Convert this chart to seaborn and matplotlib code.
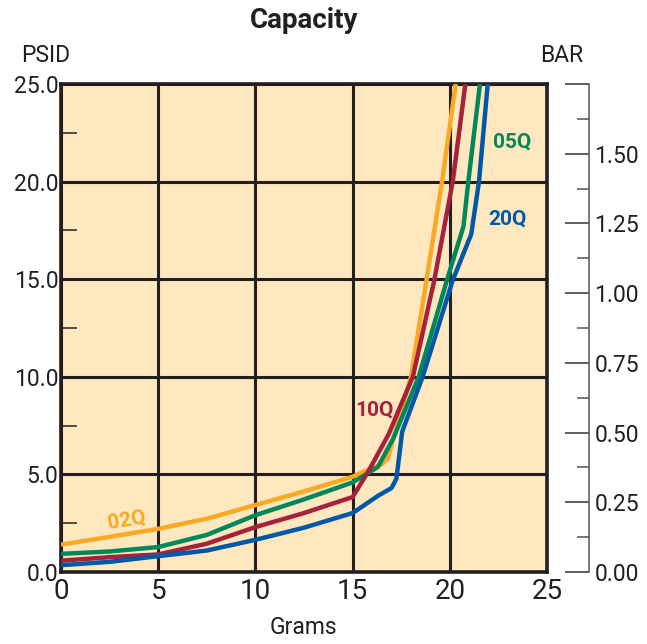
import pandas as pd
import numpy as np
import matplotlib
matplotlib.use("Agg")
import matplotlib.pyplot as plt
import seaborn as sns
from matplotlib.ticker import MultipleLocator, FixedLocator

# curve values (grams vs PSID)
grams_02q = [0, 2.5, 5, 7.5, 10, 12.5, 15, 15.7, 16.5, 16.8, 17.1, 18.0, 18.8, 19.6, 20.3]
psid_02q = [1.40, 1.80, 2.21, 2.73, 3.43, 4.13, 4.88, 5.19, 5.52, 5.81, 6.86, 10.0, 14.95, 20.0, 25.0]

grams_05q = [0, 2.5, 5, 7.5, 10, 12.5, 15, 16.3, 17.1, 18.4, 19.85, 20.7, 20.95, 21.55]
psid_05q = [0.93, 1.05, 1.28, 1.90, 2.91, 3.72, 4.59, 5.38, 6.86, 10.0, 14.95, 17.7, 20.0, 25.0]

grams_10q = [0, 2.5, 5, 7.5, 10, 12.5, 15, 15.8, 16.85, 17.45, 18.1, 19.2, 20.15, 20.8]
psid_10q = [0.58, 0.76, 0.90, 1.45, 2.30, 3.02, 3.84, 5.14, 7.05, 8.48, 10.0, 14.95, 20.0, 25.0]

grams_20q = [0, 2.5, 5, 7.5, 10, 12.5, 15, 16.3, 17.0, 17.25, 17.55, 18.6, 20.15, 21.1, 21.5, 21.95]
psid_20q = [0.35, 0.52, 0.81, 1.10, 1.65, 2.27, 3.02, 3.90, 4.30, 4.77, 7.19, 10.0, 14.95, 17.3, 20.0, 25.0]

grades = ["02Q", "05Q", "10Q", "20Q"]
colors = {"02Q": "#FBA823", "05Q": "#00875A", "10Q": "#A6213C", "20Q": "#0059A8"}

psid_ticks = [0, 5, 10, 15, 20, 25]
bar_ticks = [0, 0.25, 0.5, 0.75, 1.0, 1.25, 1.5, 1.75]
bar_labels = ["0.00", "0.25", "0.50", "0.75", "1.00", "1.25", "1.50", ""]

rows = []
for g, xs, ys in [("02Q", grams_02q, psid_02q), ("05Q", grams_05q, psid_05q),
                  ("10Q", grams_10q, psid_10q), ("20Q", grams_20q, psid_20q)]:
    for x, y in zip(xs, ys):
        rows.append({"grade": g, "grams": x, "psid": y})
df = pd.DataFrame(rows)

sns.set_style("white")
plt.rcParams['font.family'] = ['Roboto', 'DejaVu Sans']

ink = "#231F20"
fig = plt.figure(figsize=(6.47, 6.44), dpi=100)
ax = fig.add_axes([0.0943, 0.1118, 0.7512, 0.7578])
ax.set_facecolor("#FFE7BF")

sns.lineplot(data=df, x="grams", y="psid", hue="grade", hue_order=grades,
             palette=colors, estimator=None, sort=False, legend=False,
             linewidth=3.2, ax=ax, zorder=3)
for line in ax.get_lines():
    line.set_solid_joinstyle("round")
    line.set_solid_capstyle("butt")

ax.set_xlim(0, 25)
ax.set_ylim(0, 25)
ax.set_xticks([0, 5, 10, 15, 20, 25])
ax.set_yticks(psid_ticks)
ax.set_yticklabels([f"{v:.1f}" for v in psid_ticks])
ax.xaxis.set_minor_locator(FixedLocator([2.5, 7.5, 12.5, 17.5, 22.5]))
ax.yaxis.set_minor_locator(FixedLocator([2.5, 7.5, 12.5, 17.5, 22.5]))
ax.grid(True, which="major", color=ink, linewidth=2.2)
ax.set_axisbelow(True)
ax.tick_params(axis="both", which="major", length=0, colors=ink)
ax.tick_params(axis="x", which="major", labelsize=20, pad=4)
ax.tick_params(axis="y", which="major", labelsize=16.5, pad=2)
ax.tick_params(axis="both", which="minor", direction="in", length=11.5, width=1.1, color=ink)
for lbl in ax.get_yticklabels():
    lbl.set_verticalalignment("center_baseline")
for s in ax.spines.values():
    s.set_color(ink)
    s.set_linewidth(2.6)
ax.set_xlabel("")
ax.set_ylabel("")

# right bar scale
ax2 = ax.twinx()
ax2.set_ylim(0, 1.75)
ax2.set_yticks(bar_ticks)
ax2.set_yticklabels(bar_labels)
ax2.yaxis.set_minor_locator(MultipleLocator(0.125))
for k in ["top", "bottom", "left"]:
    ax2.spines[k].set_visible(False)
ax2.spines["right"].set_position(("outward", 30))
ax2.spines["right"].set_color("#555555")
ax2.spines["right"].set_linewidth(1.1)
ax2.tick_params(axis="y", which="major", direction="in", length=17, width=1.1,
                color="#333333", labelsize=16.5, labelcolor=ink, pad=4)
ax2.tick_params(axis="y", which="minor", direction="in", length=8.5, width=1.1, color="#555555")

# curve labels
ax.text(3.4, 2.65, "02Q", color=colors["02Q"], fontsize=15, fontweight="bold",
        ha="center", va="center", rotation=9, zorder=4)
ax.text(16.1, 8.3, "10Q", color=colors["10Q"], fontsize=15, fontweight="bold",
        ha="center", va="center", zorder=4)
ax.text(23.2, 22.0, "05Q", color=colors["05Q"], fontsize=15, fontweight="bold",
        ha="center", va="center", zorder=4)
ax.text(22.95, 18.1, "20Q", color=colors["20Q"], fontsize=15, fontweight="bold",
        ha="center", va="center", zorder=4)

fig.text(304 / 647, 1 - 20 / 644, "Capacity", fontsize=20, fontweight="bold",
         color=ink, ha="center", va="center")
fig.text(46 / 647, 1 - 55 / 644, "PSID", fontsize=16.5, color=ink, ha="center", va="center")
fig.text(562 / 647, 1 - 55 / 644, "BAR", fontsize=16.5, color=ink, ha="center", va="center")
fig.text(303 / 647, 1 - 628 / 644, "Grams", fontsize=16.5, color=ink, ha="center", va="center")

fig.savefig("out.png", dpi=100)
